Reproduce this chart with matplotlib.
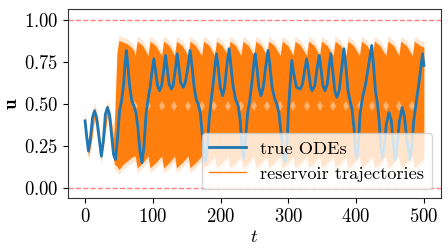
import matplotlib
matplotlib.use("Agg")
import matplotlib.pyplot as plt
from matplotlib.lines import Line2D

plt.rcParams['font.family'] = 'serif'
plt.rcParams['font.serif'] = ['cmr10']
plt.rcParams['mathtext.fontset'] = 'cm'
plt.rcParams['axes.formatter.use_mathtext'] = True
plt.rcParams['font.size'] = 13.5

# true ODE trajectory
true_t = [0, 2, 5, 8, 11, 14, 17, 20, 24, 27, 30, 33, 36, 39, 42, 45, 48, 51, 54, 57, 59, 61,
          63, 66, 69, 72, 75, 78, 81, 84, 87, 90, 93, 96, 99, 101.5, 104, 107, 110, 113, 116,
          118.8, 121, 124, 127.5, 130, 133, 136, 138.5, 141, 145, 148, 151, 155, 158, 161, 164,
          167, 170, 173, 176, 178, 180, 183, 186, 189, 192, 194, 196.5, 199.5, 203, 206, 209,
          212.5, 215, 218, 222, 226, 229, 231.5, 234, 236.5, 240, 243, 246, 249, 251, 253.5,
          256.5, 259.5, 263, 266.5, 270, 272.5, 276, 280, 283, 286, 290, 293, 295.5, 298, 300,
          302, 305, 308, 312, 317.5, 321, 324, 327, 330, 333, 335, 339, 342, 345.5, 348.5, 351,
          354, 357.5, 360, 362.7, 365.5, 368.5, 371.5, 375, 379, 382, 385, 388, 391, 394, 397,
          399, 401, 403, 406, 410, 414, 418, 421, 423, 425.5, 428.5, 431.5, 434, 436.5, 439,
          441.5, 444.5, 448.5, 452, 455, 457.5, 460, 464, 468, 471.5, 475, 479.5, 482, 485, 489,
          492.5, 495.5, 498, 500]
true_u = [.40, .32, .22, .30, .42, .46, .42, .32, .19, .28, .44, .48, .44, .32, .20, .17, .30, .46,
          .52, .62, .74, .82, .74, .60, .52, .49, .45, .36, .22, .15, .25, .44, .53, .60, .70, .77,
          .70, .61, .58, .61, .70, .79, .72, .62, .59, .61, .70, .80, .72, .63, .60, .63, .70, .82,
          .72, .60, .53, .50, .45, .32, .18, .16, .22, .40, .52, .62, .74, .80, .72, .60, .55, .60,
          .72, .83, .74, .62, .53, .49, .40, .25, .18, .28, .45, .52, .62, .74, .80, .72, .60, .55,
          .60, .72, .82, .74, .60, .53, .50, .45, .30, .18, .16, .25, .45, .58, .76, .68, .60, .59,
          .62, .70, .77, .69, .60, .58, .61, .70, .79, .70, .61, .58, .62, .72, .80, .70, .58, .54,
          .58, .72, .83, .72, .58, .52, .47, .35, .22, .18, .24, .45, .55, .62, .72, .80, .85, .74,
          .58, .50, .40, .25, .18, .24, .38, .45, .40, .26, .17, .24, .40, .48, .42, .28, .17, .24,
          .40, .52, .62, .72, .80, .73]

# envelope of the reservoir trajectory ensemble
band_t = [0, 5, 9, 14, 19, 24, 28, 33, 38, 42, 44, 47, 50, 56, 62, 68, 72, 74, 77, 85, 93, 96,
          104, 113, 116, 124, 132, 135, 143, 152, 155, 163, 172, 175, 183, 191, 194, 202, 211,
          214, 222, 230, 233, 241, 249, 252, 260, 268, 271, 279, 288, 291, 299, 307, 310, 318,
          327, 330, 338, 346, 349, 357, 366, 369, 377, 385, 388, 396, 405, 408, 416, 424, 427,
          435, 444, 447, 455, 463, 466, 474, 483, 486, 494, 500]
band_hi = [.43, .26, .34, .48, .40, .23, .36, .50, .42, .30, .45, .80, .88, .87, .86, .84, .82,
           .79, .875, .85, .79, .875, .85, .79, .875, .85, .79, .875, .85, .79, .875, .85, .79,
           .875, .85, .79, .875, .85, .79, .875, .85, .79, .875, .85, .79, .875, .85, .79, .875,
           .85, .79, .875, .85, .79, .875, .85, .79, .875, .85, .79, .875, .85, .79, .875, .85,
           .79, .875, .85, .79, .875, .85, .79, .875, .85, .79, .875, .85, .79, .875, .85, .79,
           .875, .85, .84]
band_lo = [.38, .19, .27, .42, .33, .17, .28, .44, .33, .17, .14, .13, .11, .14, .16, .18, .19,
           .19, .12, .15, .19, .12, .15, .19, .12, .15, .19, .12, .15, .19, .12, .15, .19, .12,
           .15, .19, .12, .15, .19, .12, .15, .19, .12, .15, .19, .12, .15, .19, .12, .15, .19,
           .12, .15, .19, .12, .15, .19, .12, .15, .19, .12, .15, .19, .12, .15, .19, .12, .15,
           .19, .12, .15, .19, .12, .15, .19, .12, .15, .19, .12, .15, .19, .12, .15, .18]

# sparse spots where the trajectories cross mid-height
gap_t = [74, 93, 113, 132, 152, 172, 191, 211, 230, 249, 268, 288, 307, 327, 346, 366, 385,
         405, 424, 444, 463, 483]
gap_u = [0.49] * len(gap_t)

fig = plt.figure(figsize=(4.48, 2.52), dpi=100)
ax = fig.add_axes([0.152, 0.214, 0.832, 0.749])

orange = '#ff7f0e'
ax.fill_between(band_t, [h + 0.03 for h in band_hi], [l - 0.03 for l in band_lo],
                color=orange, alpha=0.2, lw=0)
ax.fill_between(band_t, band_hi, band_lo, color=orange, lw=0)
ax.plot(gap_t, gap_u, ls='none', marker='d', ms=5, mew=0, color='white', alpha=0.4)
ax.plot(true_t, true_u, color='#1f77b4', lw=2, zorder=3)

ax.axhline(0, color='#ff8080', ls='--', lw=1)
ax.axhline(1, color='#ff8080', ls='--', lw=1)

ax.set_xlim(-25, 525)
ax.set_ylim(-0.06, 1.065)
ax.set_xticks([0, 100, 200, 300, 400, 500])
ax.set_yticks([0, 0.25, 0.5, 0.75, 1.0])
ax.set_xlabel('$t$', labelpad=2)
ax.set_ylabel(r'$\mathbf{u}$', labelpad=2)
for s in ax.spines.values():
    s.set_color('#333333')

handles = [Line2D([], [], color='#1f77b4', lw=2), Line2D([], [], color=orange, lw=1)]
ax.legend(handles, ['true ODEs', 'reservoir trajectories'], loc='lower right',
          fontsize=13.2, handlelength=2.0, borderpad=0.4, labelspacing=0.5)

fig.savefig('out.png', dpi=100)
